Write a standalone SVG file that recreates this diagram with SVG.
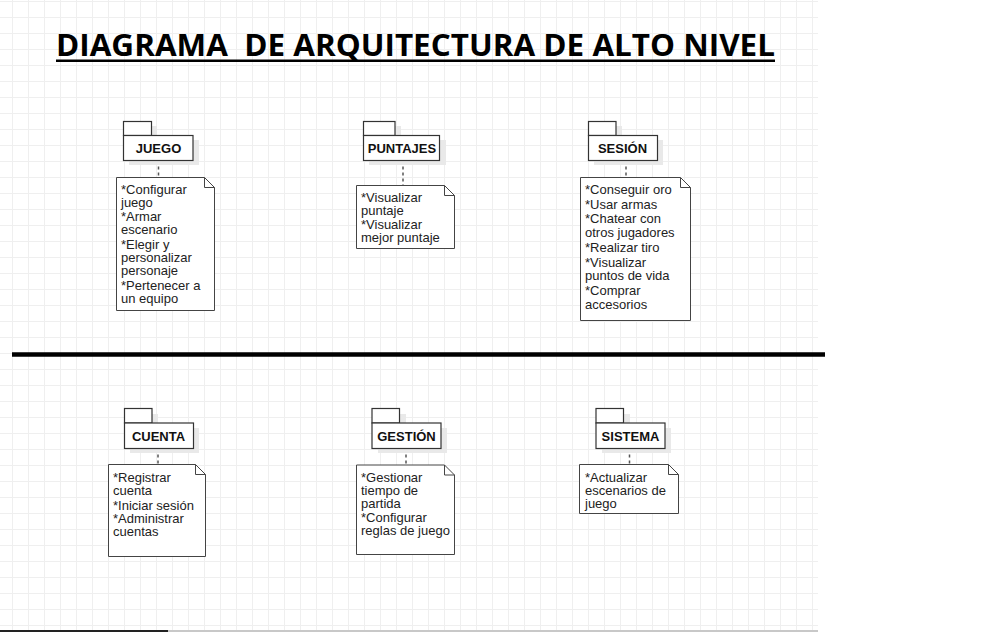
<svg xmlns="http://www.w3.org/2000/svg" width="992" height="632" viewBox="0 0 992 632">
<defs>
<pattern id="grid" patternUnits="userSpaceOnUse" x="12" y="1" width="16" height="16">
<path d="M0 0.5H16M0.5 0V16" stroke="#efefef" stroke-width="1" fill="none"/>
</pattern>
<style>
.pkg{fill:#fff;stroke:#333;stroke-width:1.2}
.shd{fill:#e9e9e9}
.lbl{font-family:"Liberation Sans",Arial,sans-serif;font-weight:bold;font-size:13px;fill:#111;text-anchor:middle}
.note{fill:#fff;stroke:#444;stroke-width:1}
.fold{fill:none;stroke:#444;stroke-width:1}
.nt{font-family:"Liberation Sans",Arial,sans-serif;font-size:13px;fill:#222}
.dash{stroke:#555;stroke-width:1.5;stroke-dasharray:3 3;fill:none}
</style>
</defs>
<rect x="0" y="0" width="992" height="632" fill="#fff"/>
<rect x="0" y="0" width="818" height="632" fill="url(#grid)"/>
<line x1="0" y1="631" x2="168" y2="631" stroke="#222" stroke-width="2"/>
<line x1="168" y1="631" x2="818" y2="631" stroke="#c8c8c8" stroke-width="2"/>

<g id="title">
<text x="56" y="55.5" font-family="'Open Sans','Liberation Sans',sans-serif" font-weight="bold" font-size="31" fill="#000" textLength="719" lengthAdjust="spacingAndGlyphs" xml:space="preserve">DIAGRAMA  DE ARQUITECTURA DE ALTO NIVEL</text>
<rect x="56" y="59.5" width="719" height="2.5" fill="#000"/>
</g>

<g id="divider">
<line x1="12" y1="354.5" x2="825" y2="354.5" stroke="#000" stroke-width="4.5"/>
</g>

<g id="connectors">
<line class="dash" x1="158.5" y1="160.5" x2="158.5" y2="177"/>
<line class="dash" x1="403" y1="160.5" x2="403" y2="185"/>
<line class="dash" x1="626" y1="160.5" x2="626" y2="177"/>
<line class="dash" x1="158" y1="448.5" x2="158" y2="464"/>
<line class="dash" x1="406" y1="448.5" x2="406" y2="465"/>
<line class="dash" x1="629.5" y1="448.5" x2="629.5" y2="464"/>
</g>

<g id="pkg-juego">
<rect class="shd" x="129" y="126" width="28" height="14"/>
<rect class="shd" x="129" y="140" width="70" height="25"/>
<rect class="pkg" x="123.5" y="121.5" width="28" height="14"/>
<rect class="pkg" x="123.5" y="135.5" width="69.5" height="25"/>
<text class="lbl" x="158.5" y="153">JUEGO</text>
</g>
<g id="note-juego">
<path class="note" d="M116.5 177.5H204.5L214.5 187.5V310.5H116.5Z"/>
<path class="fold" d="M204.5 177.5V187.5H214.5"/>
<text class="nt" x="121"><tspan x="121" y="194">*Configurar</tspan><tspan x="121" y="207">juego</tspan><tspan x="121" y="221">*Armar</tspan><tspan x="121" y="234">escenario</tspan><tspan x="121" y="249">*Elegir y</tspan><tspan x="121" y="262">personalizar</tspan><tspan x="121" y="275">personaje</tspan><tspan x="121" y="290">*Pertenecer a</tspan><tspan x="121" y="303">un equipo</tspan></text>
</g>

<g id="pkg-puntajes">
<rect class="shd" x="369" y="126" width="32" height="14"/>
<rect class="shd" x="369" y="140" width="77" height="25"/>
<rect class="pkg" x="363.5" y="121.5" width="31.5" height="14"/>
<rect class="pkg" x="363.5" y="135.5" width="76" height="25"/>
<text class="lbl" x="402" y="153">PUNTAJES</text>
</g>
<g id="note-puntajes">
<path class="note" d="M356.5 185.5H444.5L454.5 195.5V248.5H356.5Z"/>
<path class="fold" d="M444.5 185.5V195.5H454.5"/>
<text class="nt"><tspan x="361" y="202">*Visualizar</tspan><tspan x="361" y="215">puntaje</tspan><tspan x="361" y="229">*Visualizar</tspan><tspan x="361" y="242">mejor puntaje</tspan></text>
</g>

<g id="pkg-sesion">
<rect class="shd" x="594" y="126" width="28" height="14"/>
<rect class="shd" x="594" y="140" width="69" height="25"/>
<rect class="pkg" x="588.5" y="121.5" width="27.5" height="14"/>
<rect class="pkg" x="588.5" y="135.5" width="69" height="25"/>
<text class="lbl" x="622.5" y="153">SESIÓN</text>
</g>
<g id="note-sesion">
<path class="note" d="M580.5 177.5H680.5L690.5 187.5V320.5H580.5Z"/>
<path class="fold" d="M680.5 177.5V187.5H690.5"/>
<text class="nt"><tspan x="585" y="194">*Conseguir oro</tspan><tspan x="585" y="208.5">*Usar armas</tspan><tspan x="585" y="223">*Chatear con</tspan><tspan x="585" y="236.5">otros jugadores</tspan><tspan x="585" y="252">*Realizar tiro</tspan><tspan x="585" y="266.5">*Visualizar</tspan><tspan x="585" y="280">puntos de vida</tspan><tspan x="585" y="295">*Comprar</tspan><tspan x="585" y="308.5">accesorios</tspan></text>
</g>

<g id="pkg-cuenta">
<rect class="shd" x="130" y="414" width="28" height="14"/>
<rect class="shd" x="130" y="428" width="69" height="25"/>
<rect class="pkg" x="124.5" y="408.5" width="27.5" height="14.5"/>
<rect class="pkg" x="124.5" y="423" width="69" height="25.5"/>
<text class="lbl" x="158.5" y="441">CUENTA</text>
</g>
<g id="note-cuenta">
<path class="note" d="M108.5 464.5H195.5L205.5 474.5V556.5H108.5Z"/>
<path class="fold" d="M195.5 464.5V474.5H205.5"/>
<text class="nt"><tspan x="113" y="482">*Registrar</tspan><tspan x="113" y="495">cuenta</tspan><tspan x="113" y="509.5">*Iniciar sesión</tspan><tspan x="113" y="523">*Administrar</tspan><tspan x="113" y="536">cuentas</tspan></text>
</g>

<g id="pkg-gestion">
<rect class="shd" x="378" y="414" width="28" height="14"/>
<rect class="shd" x="378" y="428" width="69" height="25"/>
<rect class="pkg" x="372" y="408.5" width="27.5" height="14.5"/>
<rect class="pkg" x="372" y="423" width="69" height="25.5"/>
<text class="lbl" x="406.5" y="441">GESTIÓN</text>
</g>
<g id="note-gestion">
<path class="note" d="M356.5 465H444.5L454.5 475V554.5H356.5Z"/>
<path class="fold" d="M444.5 465V475H454.5"/>
<text class="nt"><tspan x="361" y="482">*Gestionar</tspan><tspan x="361" y="495">tiempo de</tspan><tspan x="361" y="508">partida</tspan><tspan x="361" y="522">*Configurar</tspan><tspan x="361" y="535">reglas de juego</tspan></text>
</g>

<g id="pkg-sistema">
<rect class="shd" x="602" y="414" width="28" height="14"/>
<rect class="shd" x="602" y="428" width="69" height="25"/>
<rect class="pkg" x="596" y="408.5" width="27.5" height="14.5"/>
<rect class="pkg" x="596" y="423" width="69" height="25.5"/>
<text class="lbl" x="630.5" y="441">SISTEMA</text>
</g>
<g id="note-sistema">
<path class="note" d="M579.5 464.5H668.5L678.5 474.5V513.5H579.5Z"/>
<path class="fold" d="M668.5 464.5V474.5H678.5"/>
<text class="nt"><tspan x="585" y="482">*Actualizar</tspan><tspan x="585" y="495">escenarios de</tspan><tspan x="585" y="508">juego</tspan></text>
</g>
</svg>
